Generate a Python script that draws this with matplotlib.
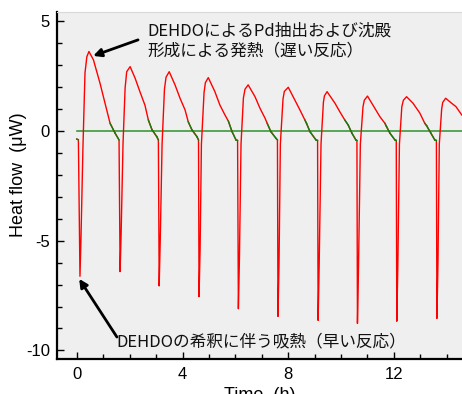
import numpy as np
import matplotlib
matplotlib.use("Agg")
import matplotlib.pyplot as plt
from matplotlib.ticker import MultipleLocator

plt.rcParams['font.family'] = ['Liberation Sans', 'Noto Sans CJK JP', 'DejaVu Sans']
plt.rcParams['axes.unicode_minus'] = False

# =========================
# DATA (one row per injection cycle)
# =========================
time_h = [
    -0.01, 0.05, 0.11, 0.15, 0.22, 0.30, 0.37, 0.45, 0.62, 0.87, 1.12, 1.25, 1.44, 1.59,
    1.63, 1.67, 1.74, 1.82, 1.88, 2.01, 2.20, 2.38, 2.57, 2.70, 2.84, 3.02, 3.08,
    3.11, 3.15, 3.22, 3.31, 3.37, 3.49, 3.71, 3.90, 4.09, 4.21, 4.35, 4.54, 4.60,
    4.62, 4.66, 4.71, 4.81, 4.86, 4.97, 5.22, 5.41, 5.60, 5.73, 5.87, 6.02, 6.08,
    6.11, 6.15, 6.21, 6.30, 6.36, 6.48, 6.74, 6.93, 7.12, 7.20, 7.34, 7.53, 7.59,
    7.61, 7.65, 7.70, 7.80, 7.85, 8.00, 8.25, 8.44, 8.63, 8.69, 8.82, 9.05, 9.11,
    9.13, 9.17, 9.24, 9.33, 9.37, 9.47, 9.77, 9.95, 10.14, 10.27, 10.41, 10.56, 10.60,
    10.62, 10.66, 10.73, 10.83, 10.88, 11.00, 11.28, 11.47, 11.66, 11.72, 11.85, 12.04, 12.09,
    12.11, 12.15, 12.21, 12.30, 12.36, 12.48, 12.72, 12.98, 13.17, 13.24, 13.40, 13.55, 13.61,
    13.63, 13.67, 13.72, 13.81, 13.85, 13.96, 14.19, 14.35, 14.57, 14.70,
]
heat_uW = [
    -0.37, -0.40, -6.62, -4.80, -0.87, 2.64, 3.38, 3.62, 3.24, 2.17, 0.96, 0.35, -0.10, -0.41,
    -6.41, -4.60, -0.60, 1.96, 2.70, 2.93, 2.40, 1.79, 1.18, 0.50, 0.05, -0.26, -0.41,
    -7.06, -5.00, -0.60, 1.90, 2.45, 2.70, 2.10, 1.49, 0.96, 0.42, 0.05, -0.26, -0.41,
    -7.55, -5.40, -0.60, 1.75, 2.20, 2.43, 1.79, 1.18, 0.73, 0.45, -0.03, -0.41, -0.43,
    -8.10, -5.80, -0.60, 1.50, 1.90, 2.10, 1.56, 1.03, 0.58, 0.35, -0.03, -0.33, -0.41,
    -8.45, -6.00, -0.60, 1.45, 1.80, 1.99, 1.41, 0.96, 0.50, 0.35, -0.03, -0.41, -0.43,
    -8.63, -6.10, -0.60, 1.30, 1.60, 1.79, 1.26, 0.88, 0.50, 0.27, -0.10, -0.41, -0.43,
    -8.77, -6.20, -0.60, 1.10, 1.40, 1.59, 1.03, 0.65, 0.35, 0.20, -0.10, -0.41, -0.43,
    -8.67, -6.10, -0.60, 1.10, 1.40, 1.56, 1.27, 0.82, 0.35, 0.24, -0.10, -0.41, -0.43,
    -8.54, -6.00, -0.60, 1.00, 1.30, 1.49, 1.26, 1.11, 0.73, 0.60,
]

x_ticks = [0, 4, 8, 12]
y_ticks = [5, 0, -5, -10]

label_slow = "DEHDOによるPd抽出および沈殿\n形成による発熱（遅い反応）"
label_fast = "DEHDOの希釈に伴う吸熱（早い反応）"

# =========================
# FIGURE
# =========================
fig = plt.figure(figsize=(4.62, 3.94), dpi=100)
ax = fig.add_axes([57 / 462, 35 / 394, 405 / 462, 347 / 394])
ax.set_facecolor('#efefef')

t = np.array(time_h)
q = np.array(heat_uW)

# baseline
ax.axhline(0, xmin=(0 + 0.76) / 15.34, color='#3c9a3c', lw=1.2, zorder=1)

# whole trace red, then tail of each decay in green
ax.plot(t, q, color='#ff0000', lw=1.0, zorder=2)
for i in range(len(t) - 1):
    if -0.45 < q[i] < 0.52 and -0.45 < q[i + 1] < 0.52 and q[i + 1] < q[i]:
        ax.plot(t[i:i + 2], q[i:i + 2], color='#108010', lw=1.0, zorder=3)

ax.set_xlim(-0.76, 14.58)
ax.set_ylim(-10.39, 5.42)

ax.set_xticks(x_ticks)
ax.set_yticks(y_ticks)
ax.xaxis.set_minor_locator(MultipleLocator(1))
ax.yaxis.set_minor_locator(MultipleLocator(1))
ax.tick_params(axis='both', which='major', direction='in', length=5, width=1.0,
               labelsize=12, pad=6, color='black')
ax.tick_params(axis='both', which='minor', direction='in', length=3.5, width=1.0)
ax.tick_params(axis='y', which='major', pad=5)

for s in ['left', 'bottom']:
    ax.spines[s].set_linewidth(1.6)
ax.spines['right'].set_visible(False)
ax.spines['top'].set_color('#d8d8d8')
ax.spines['top'].set_linewidth(0.8)

ax.set_xlabel('Time  (h)', fontsize=13, labelpad=3)
ax.set_ylabel('Heat flow  (μW)', fontsize=13)
ax.yaxis.set_label_coords(-0.075, 0.53)

# =========================
# ANNOTATIONS
# =========================
arrow = dict(arrowstyle='-|>', color='black', lw=2.0, mutation_scale=12,
             shrinkA=0, shrinkB=0)
ax.annotate('', xy=(0.61, 3.42), xytext=(2.31, 4.15), arrowprops=arrow)
ax.annotate('', xy=(0.08, -6.74), xytext=(1.51, -9.39), arrowprops=arrow)

ax.text(2.65, 4.10, label_slow, family=['Noto Sans CJK JP'], fontsize=12,
        va='center', ha='left', linespacing=1.15, color='#111111')
ax.text(1.48, -9.61, label_fast, family=['Noto Sans CJK JP'], fontsize=12,
        va='center', ha='left', color='#111111')

plt.savefig('out.png', dpi=100)
